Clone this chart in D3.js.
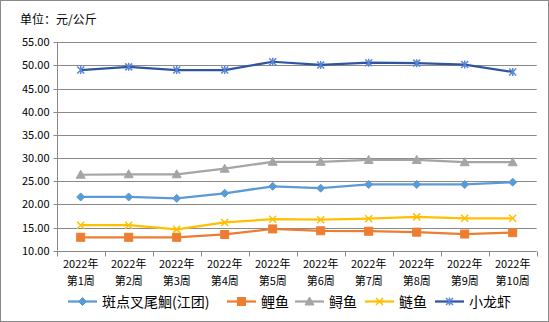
<!DOCTYPE html>
<html><head><meta charset="utf-8">
<script src="https://cdn.jsdelivr.net/npm/d3@7"></script>
<style>
html,body{margin:0;padding:0;background:#fff;}
svg{display:block;font-family:"Noto Sans CJK SC","Noto Sans",sans-serif;}
</style></head>
<body>
<svg id="c" width="549" height="322"></svg>
<script>
const categories = ["2022年\n第1周","2022年\n第2周","2022年\n第3周","2022年\n第4周","2022年\n第5周","2022年\n第6周","2022年\n第7周","2022年\n第8周","2022年\n第9周","2022年\n第10周"];
const seriesNames = ["斑点叉尾鮰(江团)","鲤鱼","鲟鱼","鲢鱼","小龙虾"];
const channelCatfish = [21.6,21.6,21.3,22.4,23.9,23.5,24.3,24.3,24.3,24.8];
const carp = [12.9,12.9,12.9,13.5,14.7,14.3,14.2,14.0,13.6,13.9];
const sturgeon = [26.4,26.5,26.5,27.7,29.2,29.2,29.6,29.6,29.1,29.1];
const silverCarp = [15.5,15.5,14.6,16.1,16.8,16.7,16.9,17.3,17.0,17.0];
const crayfish = [49.0,49.7,49.0,49.0,50.8,50.1,50.6,50.5,50.2,48.6];
const yTicks = [10,15,20,25,30,35,40,45,50,55];
const unitLabel = "单位：元/公斤";

const series = [
  {name:seriesNames[0], values:channelCatfish, color:"#5B9BD5", marker:"diamond"},
  {name:seriesNames[1], values:carp, color:"#ED7D31", marker:"square"},
  {name:seriesNames[2], values:sturgeon, color:"#A5A5A5", marker:"triangle"},
  {name:seriesNames[3], values:silverCarp, color:"#FFC000", marker:"x"},
  {name:seriesNames[4], values:crayfish, color:"#2F55A0", marker:"star", mcolor:"#5B86D6"}
];

const svg = d3.select("#c");
const L=56.7, R=536.7, T=42.3, B=250.7;
svg.append("rect").attr("x",0.5).attr("y",0.5).attr("width",548).attr("height",321)
  .attr("fill","#fff").attr("stroke","#898989");

const x = d3.scaleBand().domain(categories).range([L,R]);
const y = d3.scaleLinear().domain([10,55]).range([B,T]);

svg.append("text").attr("x",20).attr("y",24).attr("font-size",12).attr("fill","#000").text(unitLabel);

// gridlines
svg.append("g").selectAll("line").data(yTicks.filter(d=>d>10)).join("line")
  .attr("x1",L).attr("x2",R).attr("y1",d=>Math.round(y(d))+0.5).attr("y2",d=>Math.round(y(d))+0.5)
  .attr("stroke","#898989").attr("stroke-width",1);

// y axis
const ya = svg.append("g").attr("transform",`translate(${Math.round(L)+0.5},0)`)
  .call(d3.axisLeft(y).tickValues(yTicks).tickFormat(d3.format(".2f")).tickSize(4).tickPadding(4));
ya.selectAll("path,line").attr("stroke","#898989");
ya.select("path").attr("d",`M0,${T}V${B}`);
ya.selectAll("text").attr("font-size",11).attr("fill","#000").attr("font-family","'Noto Sans CJK SC',sans-serif");
ya.selectAll(".tick line").attr("transform","translate(0,0)");
ya.selectAll(".tick").attr("transform",d=>`translate(0,${Math.round(y(d))+0.5})`);

// x axis
const xa = svg.append("g").attr("transform",`translate(0,${Math.round(B)+0.5})`);
xa.append("line").attr("x1",L).attr("x2",R).attr("stroke","#898989");
const bounds = categories.map(c=>x(c)).concat([R]);
xa.selectAll("line.t").data(bounds).join("line").attr("class","t")
  .attr("x1",d=>Math.round(d)+0.5).attr("x2",d=>Math.round(d)+0.5).attr("y1",0).attr("y2",5).attr("stroke","#898989");
const xt = xa.selectAll("text.l").data(categories).join("text").attr("class","l")
  .attr("text-anchor","middle").attr("font-size",11).attr("fill","#000")
  .attr("transform",d=>`translate(${x(d)+x.bandwidth()/2},0)`);
xt.each(function(d){
  const parts=d.split("\n");
  d3.select(this).selectAll("tspan").data(parts).join("tspan").attr("x",0).attr("y",(p,i)=>16+i*17).text(p=>p);
});

function drawMarker(g, type, color, cx, cy, s){
  const t = g.append("g").attr("transform",`translate(${cx},${cy})`);
  if(type==="diamond"){
    t.append("path").attr("d","M0,-4L4,0L0,4L-4,0Z").attr("fill",color).attr("stroke",color);
  } else if(type==="square"){
    t.append("rect").attr("x",-4).attr("y",-4).attr("width",8).attr("height",8).attr("fill",color).attr("stroke",color);
  } else if(type==="triangle"){
    t.append("path").attr("d","M0,-4.5L4.5,3.5L-4.5,3.5Z").attr("fill",color).attr("stroke",color);
  } else if(type==="x"){
    t.append("path").attr("d","M-3.5,-3.5L3.5,3.5M-3.5,3.5L3.5,-3.5").attr("stroke",color).attr("stroke-width",1.5).attr("fill","none");
  } else if(type==="star"){
    t.append("path").attr("d","M-3.5,-3.5L3.5,3.5M-3.5,3.5L3.5,-3.5M0,-4L0,4").attr("stroke",color).attr("stroke-width",1.5).attr("fill","none");
  }
}

const line = d3.line().x((d,i)=>x(categories[i])+x.bandwidth()/2).y(d=>y(d));
series.forEach(s=>{
  const g = svg.append("g");
  g.append("path").datum(s.values).attr("d",line).attr("fill","none").attr("stroke",s.color).attr("stroke-width",2.25).attr("stroke-linejoin","round");
  s.values.forEach((v,i)=>drawMarker(g,s.marker,s.mcolor||s.color,x(categories[i])+x.bandwidth()/2,y(v)));
});

// legend
const legendX = [68,227,295,365,435];
const lg = svg.append("g");
series.forEach((s,i)=>{
  const lx = legendX[i], ly = 301.5;
  lg.append("line").attr("x1",lx).attr("x2",lx+29).attr("y1",ly).attr("y2",ly).attr("stroke",s.color).attr("stroke-width",2.25);
  drawMarker(lg,s.marker,s.mcolor||s.color,lx+14.5,ly);
  lg.append("text").attr("x",lx+34).attr("y",ly+5).attr("font-size",14).attr("fill","#000").text(s.name);
});
</script>
</body></html>
